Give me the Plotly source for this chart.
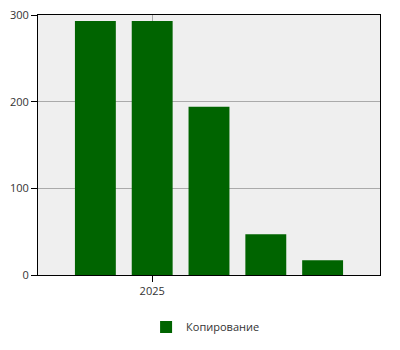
import plotly.graph_objects as go

categories = ["2024-12", "2025-01", "2025-02", "2025-03", "2025-04"]
values = [293, 293, 194, 47, 17]
series_name = "Копирование"
tick_positions = [1]
tick_labels = ["2025"]

x_idx = list(range(len(categories)))

fig = go.Figure()
fig.add_trace(go.Bar(
    x=x_idx, y=values, name=series_name,
    marker=dict(color="#006400", line=dict(width=0)),
    width=0.72,
    customdata=categories,
    hovertemplate="%{customdata}: %{y}<extra></extra>",
))

fig.update_layout(
    width=400, height=350,
    margin=dict(l=38, r=20, t=15, b=75, autoexpand=False),
    paper_bgcolor="white",
    plot_bgcolor="#efefef",
    font=dict(family="Open Sans", size=11, color="#333333"),
    showlegend=True,
    legend=dict(orientation="h", x=0.49, xanchor="center", y=-0.2, yanchor="middle",
                font=dict(size=11, color="#333333")),
)
fig.update_xaxes(
    range=[-1.01, 5.01], automargin=False,
    tickmode="array", tickvals=tick_positions, ticktext=tick_labels,
    showline=True, linecolor="black", linewidth=1, mirror=True,
    ticks="outside", ticklen=6, tickcolor="black",
    showgrid=True, gridcolor="#aaaaaa", zeroline=False,
)
fig.update_yaxes(
    range=[0, 300], automargin=False,
    tickvals=[0, 100, 200, 300],
    showline=True, linecolor="black", linewidth=1, mirror=True,
    ticks="outside", ticklen=6, tickcolor="black",
    showgrid=True, gridcolor="#aaaaaa", zeroline=False,
)

fig.write_html("out.html")
